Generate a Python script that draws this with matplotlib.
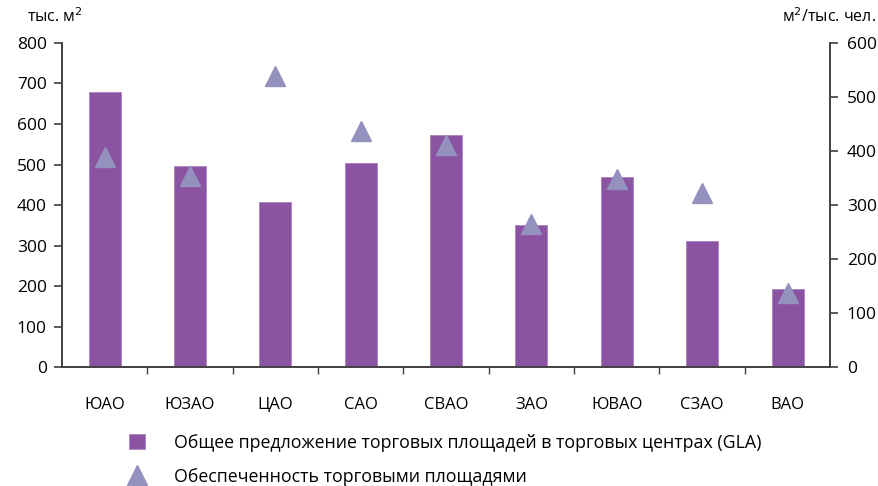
import numpy as np
import matplotlib
matplotlib.use("Agg")
import matplotlib.pyplot as plt

plt.rcParams['font.family'] = ['Open Sans', 'DejaVu Sans']

# Данные
okruga = ["ЮАО", "ЮЗАО", "ЦАО", "САО", "СВАО", "ЗАО", "ЮВАО", "СЗАО", "ВАО"]
gla = [679, 496, 408, 504, 573, 351, 469, 312, 193]             # тыс. м2
obesp = [389, 354, 539, 437, 411, 265, 348, 322, 138]           # м2/тыс. чел.

bar_color = "#8B54A3"
tri_color = "#9591BE"
axis_color = "#404040"

fig = plt.figure(figsize=(8.79, 4.86), dpi=100)
ax = fig.add_axes([0.0705, 0.244, 0.874, 0.668])
ax2 = ax.twinx()

x = np.arange(len(okruga))
bars = ax.bar(x, gla, width=0.375, color=bar_color, edgecolor="#A883BC", linewidth=0.6,
              label="Общее предложение торговых площадей в торговых центрах (GLA)")
tri, = ax2.plot(x, obesp, linestyle="none", marker="^", markersize=15, color=tri_color,
                label="Обеспеченность торговыми площадями")

ax.set_xlim(-0.5, len(okruga) - 0.5)
ax.set_ylim(0, 800)
ax.set_yticks(np.arange(0, 801, 100))
ax2.set_ylim(0, 600)
ax2.set_yticks(np.arange(0, 601, 100))

# Подписи категорий и засечки между ними
ax.set_xticks(x)
ax.set_xticklabels(okruga)
ax.set_xticks(np.arange(0.5, len(okruga) - 0.5, 1), minor=True)
ax.tick_params(axis="x", which="major", length=0, pad=21, labelsize=12)
ax.tick_params(axis="x", which="minor", length=5, width=1, color=axis_color, direction="out")

for a in (ax, ax2):
    a.spines["top"].set_visible(False)
    for s in ("left", "right", "bottom"):
        a.spines[s].set_color(axis_color)
        a.spines[s].set_linewidth(1.2)
ax.tick_params(axis="y", length=6, width=1.2, color=axis_color, labelsize=12.5, pad=5)
ax2.tick_params(axis="y", length=6, width=1.2, color=axis_color, labelsize=12.5, pad=6)

fig.text(0.031, 0.966, "тыс. м$^2$", fontsize=11.5, va="center", ha="left")
fig.text(0.997, 0.966, "м$^2$/тыс. чел.", fontsize=11.5, va="center", ha="right")

leg = fig.legend(handles=[bars, tri], loc="upper left", bbox_to_anchor=(0.139, 0.122),
                 frameon=False, fontsize=12.8, handlelength=0.9, handleheight=0.9,
                 handletextpad=1.6, labelspacing=0.9, borderaxespad=0)

fig.savefig("out.png", dpi=100)
